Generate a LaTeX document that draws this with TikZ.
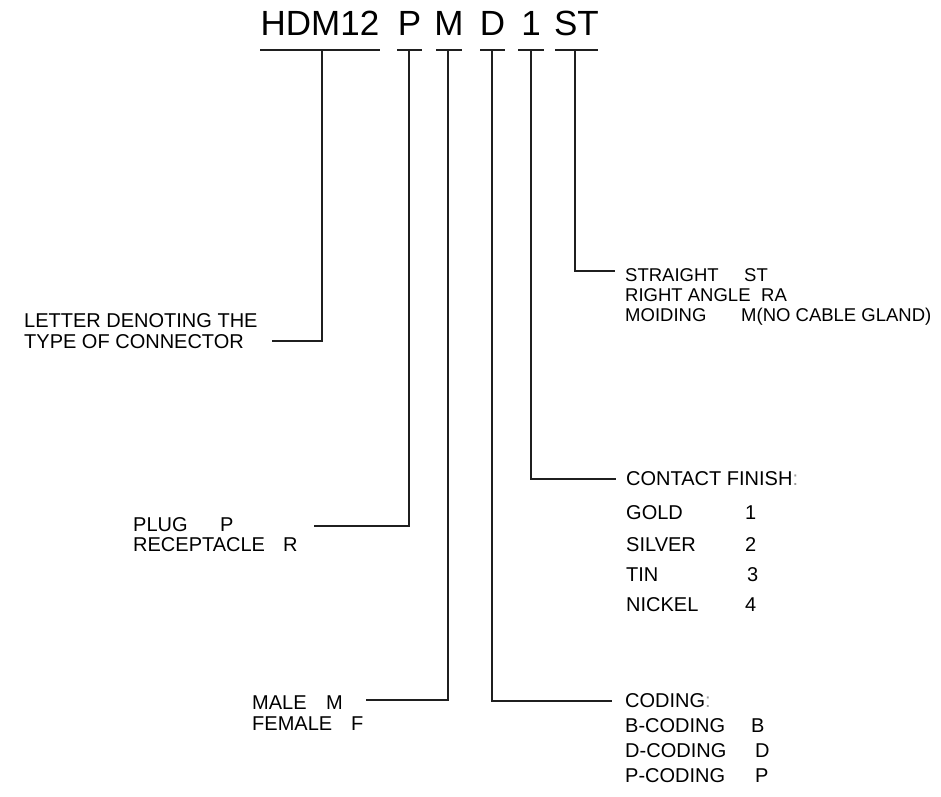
\documentclass[tikz,border=0pt]{standalone}
\usepackage{fontspec}
\setmainfont{Liberation Sans}
\begin{document}
\begin{tikzpicture}[x=1pt,y=-1pt,
  lbl/.style={font=\fontsize{20}{20}\selectfont, anchor=base west, inner sep=0pt, text=black},
  lbls/.style={font=\fontsize{18.5}{20}\selectfont, anchor=base west, inner sep=0pt, text=black},
  ttl/.style={font=\fontsize{35}{36}\selectfont, anchor=base, inner sep=0pt, text=black},
  ln/.style={line width=2pt, draw=black!88},
  uln/.style={line width=2pt, draw=black!88}]
\useasboundingbox (0,0) rectangle (941,796);
% title
\node[ttl] (tH) at (320,35) {HDM12};
\node[ttl] (tP) at (409.5,35) {P};
\node[ttl] (tM) at (449,35) {M};
\node[ttl] (tD) at (492.5,35) {D};
\node[ttl] (t1) at (531,35) {1};
\node[ttl] (tS) at (576.5,35) {ST};
% underlines
\draw[uln] (260,50) -- (380,50);
\draw[uln] (397,50) -- (422,50);
\draw[uln] (436,50) -- (462,50);
\draw[uln] (480,50) -- (505,50);
\draw[uln] (518,50) -- (544,50);
\draw[uln] (555,50) -- (598,50);
% stem starts
\coordinate (uH) at (322,50);
\coordinate (uP) at (409,50);
\coordinate (uM) at (448,50);
\coordinate (uD) at (492,50);
\coordinate (u1) at (531,50);
\coordinate (uS) at (575,50);
% stem ends
\coordinate (eH) at (272,341);
\coordinate (eP) at (314,526);
\coordinate (eM) at (366,700);
\coordinate (eD) at (612,701);
\coordinate (e1) at (616,479);
\coordinate (eS) at (615,271);
% labels: type
\node[lbl] (lt1) at (24,327) {LETTER DENOTING THE};
\node[lbl] (lt2) at (24,348) {TYPE OF CONNECTOR};
% plug
\node[lbl] (pl1) at (133,531) {PLUG};
\node[lbl] (pl1c) at (220,531) {P};
\node[lbl] (pl2) at (133,551) {RECEPTACLE};
\node[lbl] (pl2c) at (283,551) {R};
% male
\node[lbl] (ml1) at (252,709) {MALE};
\node[lbl] (ml1c) at (326,709) {M};
\node[lbl] (ml2) at (252,730) {FEMALE};
\node[lbl] (ml2c) at (351,730) {F};
% straight
\node[lbls] (st1) at (625,281) {STRAIGHT};
\node[lbls] (st1c) at (744,281) {ST};
\node[lbls] (st2) at (625,301) {RIGHT ANGLE};
\node[lbls] (st2c) at (761,301) {RA};
\node[lbls] (st3) at (625,321) {MOIDING};
\node[lbls] (st3c) at (741,321) {M(NO CABLE GLAND)};
% contact finish
\node[lbl] (cf) at (626,485) {CONTACT FINISH\textcolor{black!40}{:}};
\node[lbl] (cf1) at (626,519) {GOLD};
\node[lbl] (cf1c) at (745,519) {1};
\node[lbl] (cf2) at (626,551) {SILVER};
\node[lbl] (cf2c) at (745,551) {2};
\node[lbl] (cf3) at (626,581) {TIN};
\node[lbl] (cf3c) at (747,581) {3};
\node[lbl] (cf4) at (626,611) {NICKEL};
\node[lbl] (cf4c) at (745,611) {4};
% coding
\node[lbl] (cd) at (625,707) {CODING\textcolor{black!40}{:}};
\node[lbl] (cd1) at (625,732) {B-CODING};
\node[lbl] (cd1c) at (751,732) {B};
\node[lbl] (cd2) at (625,757) {D-CODING};
\node[lbl] (cd2c) at (755,757) {D};
\node[lbl] (cd3) at (625,782) {P-CODING};
\node[lbl] (cd3c) at (755,782) {P};
% connectors
\draw[ln] (uH) |- (eH);
\draw[ln] (uP) |- (eP);
\draw[ln] (uM) |- (eM);
\draw[ln] (uD) |- (eD);
\draw[ln] (u1) |- (e1);
\draw[ln] (uS) |- (eS);
\end{tikzpicture}
\end{document}
